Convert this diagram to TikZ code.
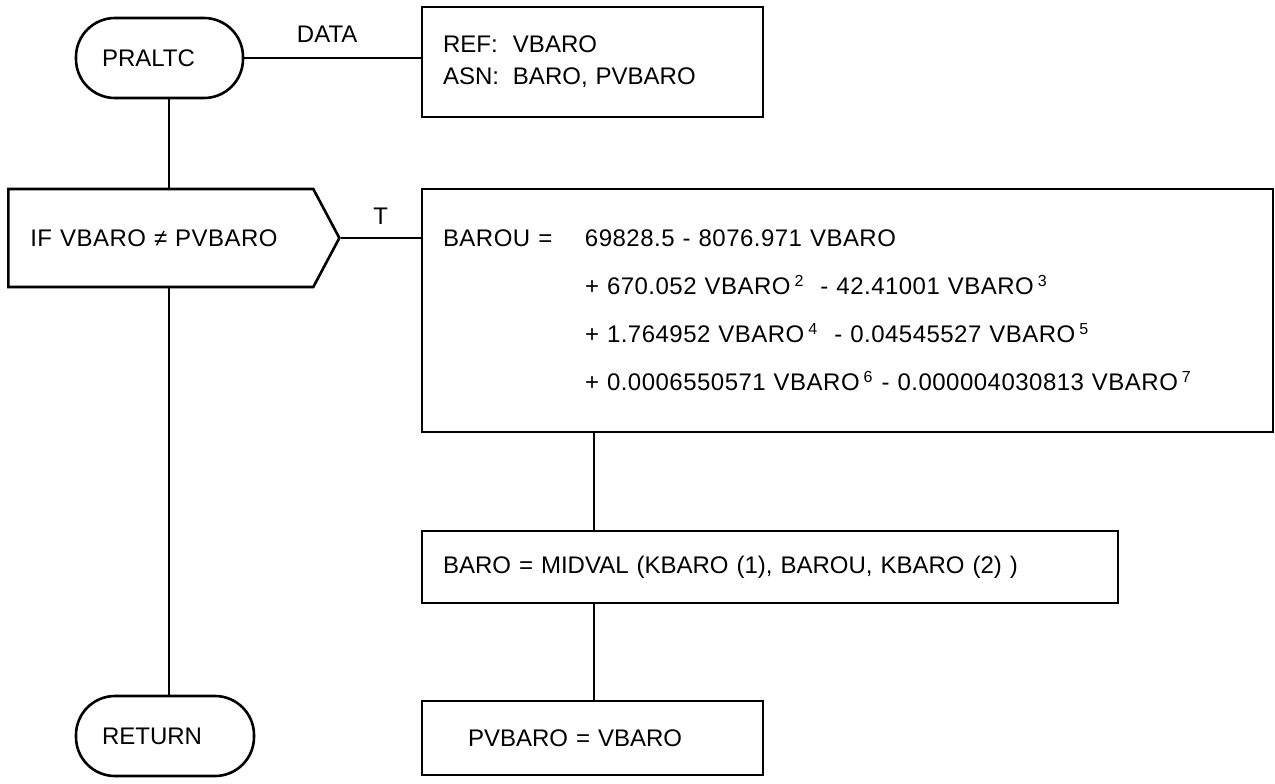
\documentclass[tikz,border=0pt]{standalone}
\usepackage{fontspec}
\setmainfont{Liberation Sans}
\newfontfamily\spacedfont[LetterSpace=2]{Liberation Sans}
\usepackage{tikz}
\usetikzlibrary{shapes.symbols, positioning}

\tikzset{
  term/.style={draw, rectangle, rounded corners=19.5pt, minimum height=40pt,
    inner xsep=13pt, text width=#1, align=left},
  decide/.style={draw, signal, signal to=east, signal pointer angle=124,
    minimum height=49pt, inner xsep=11pt, text width=130.5pt, align=left},
  box/.style={draw, rectangle, inner xsep=10.5pt, align=left}
}

\begin{document}
\begin{tikzpicture}[x=0.5pt, y=-0.5pt, line width=1.3pt, font=\fontsize{12}{14}\selectfont]
            \useasboundingbox (0,0) rectangle (1275,783);

            % Cac khoi chinh
            \node[term=57.5pt] (pralt) at (159.5,58) {PRALTC};
            \node[box, text width=149.5pt, minimum height=55pt, font=\fontsize{12}{16}\selectfont]
                (ref) at (592.5,62) {\makebox[35pt][l]{REF:}VBARO\\ \makebox[35pt][l]{ASN:}BARO, PVBARO};
            \node[decide, anchor=west, font=\spacedfont\fontsize{12}{14}\selectfont] (dec) at (7,238)
                {IF VBARO ≠ PVBARO};
            \node[box, text width=404.5pt, minimum height=121.5pt, font=\spacedfont\fontsize{12}{24}\selectfont]
                (barou) at (847.5,310.5) {\makebox[71pt][l]{BAROU =}69828.5 - 8076.971 VBARO\\
                \hspace*{71pt}+ 670.052 VBARO\,\textsuperscript{2}\ \ - 42.41001 VBARO\,\textsuperscript{3}\\
                \hspace*{71pt}+ 1.764952 VBARO\,\textsuperscript{4}\ \ - 0.04545527 VBARO\,\textsuperscript{5}\\
                \hspace*{71pt}+ 0.0006550571 VBARO\,\textsuperscript{6} - 0.000004030813 VBARO\,\textsuperscript{7}};
            \node[box, text width=327pt, minimum height=36pt] (midv) at (770,567)
                {BARO = MIDVAL (KBARO (1), BAROU, KBARO (2) )};
            \node[box, inner xsep=23pt, text width=124.5pt, minimum height=37pt] (pv) at (592.5,738)
                {PVBARO = VBARO};
            \node[term=63pt] (ret) at (165,736) {RETURN};

            % Duong noi
            \coordinate (spine) at (169,0);
            \coordinate (col) at (594,0);
            \draw (pralt.east) -- node[pos=0.47, above=4pt] (lbldata) {DATA} (pralt.east -| ref.west);
            \draw (spine |- pralt.south) -- (spine |- dec.north);
            \draw (dec.east) -- node[above=3pt] (lblt) {T} (dec.east -| barou.west);
            \draw (spine |- dec.south) -- (spine |- ret.north);
            \draw (col |- barou.south) -- (col |- midv.north);
            \draw (col |- midv.south) -- (col |- pv.north);
        \end{tikzpicture}
\end{document}
